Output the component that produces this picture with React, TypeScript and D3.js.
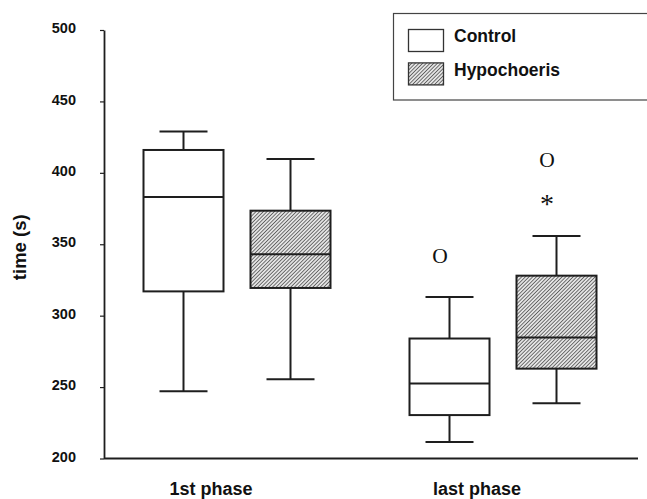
import React, { useEffect, useRef } from "react";
import * as d3 from "d3";

// box-plot stats: [min, q1, median, q3, max]
const phases = ["1st phase", "last phase"];
const seriesNames = ["Control", "Hypochoeris"];
const controlStats = [
  [247, 317, 383, 416, 429],
  [211.6, 230.4, 252.5, 284, 313],
];
const hypochoerisStats = [
  [255.4, 319.4, 343, 373.5, 409.7],
  [238.6, 262.9, 284.8, 328, 355.8],
];
const yTicks = [200, 250, 300, 350, 400, 450, 500];

// outlier / extreme markers drawn as glyphs above the whiskers
const markerPhase = ["last phase", "last phase", "last phase"];
const markerSeries = ["Control", "Hypochoeris", "Hypochoeris"];
const markerValue = [341.8, 409, 381];
const markerSymbol = ["O", "O", "*"];

const W = 647;
const H = 499;
const FONT = "'Liberation Sans', Arial, Helvetica, sans-serif";

function App(): JSX.Element {
  const ref = useRef<SVGSVGElement>(null);

  useEffect(() => {
    if (!ref.current) return;
    const svg = d3.select(ref.current);
    svg.selectAll("*").remove();

    const y = d3.scaleLinear().domain([200, 500]).range([458.5, 30]);
    const xGroup = d3.scalePoint<string>().domain(phases).range([237, 503]);
    const xSeries = d3.scalePoint<string>().domain(seriesNames).range([-53.5, 53.5]);
    const boxW = 80;
    const capW = 48;
    const ink = "#1e1e1e";

    const defs = svg.append("defs");
    const pat = defs
      .append("pattern")
      .attr("id", "hatch")
      .attr("patternUnits", "userSpaceOnUse")
      .attr("width", 2.6)
      .attr("height", 2.6)
      .attr("patternTransform", "rotate(45)");
    pat.append("rect").attr("width", 2.6).attr("height", 2.6).attr("fill", "#e4e4e4");
    pat
      .append("line")
      .attr("x1", 0)
      .attr("y1", 0)
      .attr("x2", 0)
      .attr("y2", 2.6)
      .attr("stroke", "#333")
      .attr("stroke-width", 1.3);

    // y axis
    const yAxis = svg
      .append("g")
      .attr("transform", "translate(104,0)")
      .call(
        d3
          .axisLeft(y)
          .tickValues(yTicks)
          .tickSize(4)
          .tickSizeOuter(0)
          .tickPadding(24)
          .tickFormat(d3.format("d"))
      );
    yAxis.select(".domain").attr("stroke", ink).attr("stroke-width", 1.8);
    yAxis.selectAll(".tick line").attr("stroke", ink).attr("stroke-width", 1.2);
    yAxis
      .selectAll(".tick text")
      .attr("fill", "#111")
      .attr("dy", "0.18em")
      .style("font-family", FONT)
      .style("font-weight", "bold")
      .style("font-size", "14.5px");

    // x axis baseline
    svg
      .append("line")
      .attr("x1", 104)
      .attr("x2", 638)
      .attr("y1", y(200))
      .attr("y2", y(200))
      .attr("stroke", ink)
      .attr("stroke-width", 1.8);

    // axis titles
    svg
      .append("text")
      .attr("transform", `translate(25.5,${y(350) + 3}) rotate(-90)`)
      .attr("text-anchor", "middle")
      .style("font-family", FONT)
      .style("font-weight", "bold")
      .style("font-size", "18.5px")
      .attr("fill", "#111")
      .text("time (s)");

    svg
      .selectAll(".phase-label")
      .data(phases)
      .enter()
      .append("text")
      .attr("class", "phase-label")
      .attr("x", (d) => xGroup(d)! - 26)
      .attr("y", 495)
      .attr("text-anchor", "middle")
      .style("font-family", FONT)
      .style("font-weight", "bold")
      .style("font-size", "18px")
      .attr("fill", "#111")
      .text((d) => d);

    // boxes
    const allStats = [controlStats, hypochoerisStats];
    allStats.forEach((stats, si) => {
      const series = seriesNames[si];
      const fill = si === 0 ? "#fff" : "url(#hatch)";
      stats.forEach((s, gi) => {
        const cx = xGroup(phases[gi])! + xSeries(series)!;
        const [mn, q1, med, q3, mx] = s;
        const g = svg.append("g").attr("stroke", ink).attr("stroke-width", 2);
        g.append("line").attr("x1", cx).attr("x2", cx).attr("y1", y(mx)).attr("y2", y(q3));
        g.append("line").attr("x1", cx).attr("x2", cx).attr("y1", y(q1)).attr("y2", y(mn));
        g.append("line")
          .attr("x1", cx - capW / 2)
          .attr("x2", cx + capW / 2)
          .attr("y1", y(mx))
          .attr("y2", y(mx));
        g.append("line")
          .attr("x1", cx - capW / 2)
          .attr("x2", cx + capW / 2)
          .attr("y1", y(mn))
          .attr("y2", y(mn));
        g.append("rect")
          .attr("x", cx - boxW / 2)
          .attr("y", y(q3))
          .attr("width", boxW)
          .attr("height", y(q1) - y(q3))
          .attr("fill", fill);
        g.append("line")
          .attr("x1", cx - boxW / 2)
          .attr("x2", cx + boxW / 2)
          .attr("y1", y(med))
          .attr("y2", y(med));
      });
    });

    // markers
    markerValue.forEach((v, i) => {
      const cx = xGroup(markerPhase[i])! + xSeries(markerSeries[i])! - 9.5;
      const star = markerSymbol[i] === "*";
      const fs = star ? 28 : 21.5;
      svg
        .append("text")
        .attr("x", cx)
        .attr("y", y(v) + (star ? 0.47 : 0.34) * fs)
        .attr("text-anchor", "middle")
        .style("font-family", "'Liberation Serif', 'Times New Roman', serif")
        .style("font-size", `${fs}px`)
        .attr("fill", "#111")
        .text(markerSymbol[i]);
    });

    // legend
    const leg = svg.append("g");
    leg
      .append("rect")
      .attr("x", 393.5)
      .attr("y", 13.5)
      .attr("width", 270)
      .attr("height", 86.5)
      .attr("fill", "#fff")
      .attr("stroke", "#444")
      .attr("stroke-width", 1.2);
    seriesNames.forEach((name, i) => {
      const top = 29.5 + i * 33.4;
      leg
        .append("rect")
        .attr("x", 408.5)
        .attr("y", top)
        .attr("width", 35)
        .attr("height", 22)
        .attr("fill", i === 0 ? "#fff" : "url(#hatch)")
        .attr("stroke", "#333")
        .attr("stroke-width", 1.3);
      leg
        .append("text")
        .attr("x", 454)
        .attr("y", top + 12.8)
        .style("font-family", FONT)
        .style("font-weight", "bold")
        .style("font-size", "17.5px")
        .attr("fill", "#111")
        .text(name);
    });
  }, []);

  return (
    <svg
      ref={ref}
      width={W}
      height={H}
      style={{ position: "absolute", left: 0, top: 0, background: "#fff" }}
    />
  );
}

export default App;
